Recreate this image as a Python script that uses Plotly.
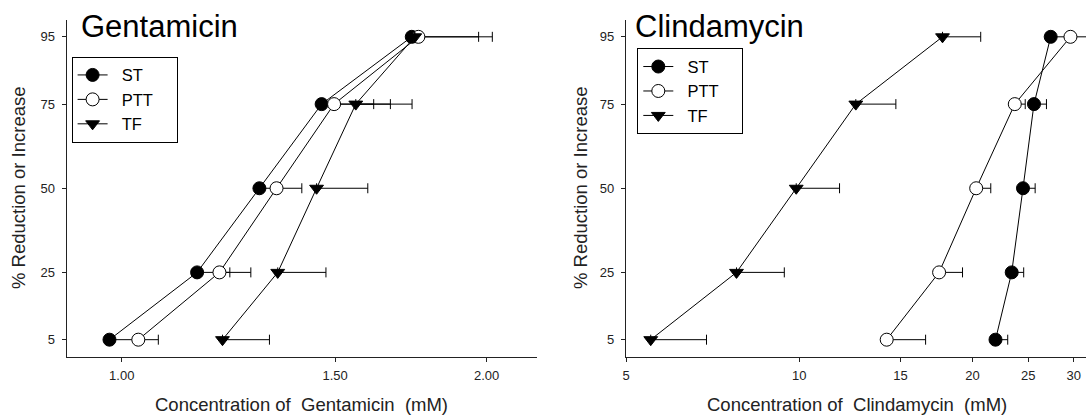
import plotly.graph_objects as go

# ---------------- data ----------------
levels = [5, 25, 50, 75, 95]
level_ticks = [5, 25, 50, 75, 95]

# Gentamicin (mM): centre values and upper end of error bar
gen_st = [0.977, 1.154, 1.299, 1.462, 1.735]
gen_st_hi = [1.03, 1.228, 1.34, 1.614, 1.97]
gen_ptt = [1.032, 1.204, 1.342, 1.497, 1.757]
gen_ptt_hi = [1.072, 1.278, 1.408, 1.666, 2.022]
gen_tf = [1.211, 1.345, 1.448, 1.560, 1.745]
gen_tf_hi = [1.324, 1.474, 1.596, 1.736, None]
gen_ticks = [1.0, 1.5, 2.0]
gen_ticktext = ["1.00", "1.50", "2.00"]

# Clindamycin (mM)
cli_st = [21.93, 23.4, 24.48, 25.58, 27.35]
cli_st_hi = [23.03, 24.55, 25.7, 26.89, 29.5]
cli_ptt = [14.19, 17.5, 20.3, 23.69, 29.6]
cli_ptt_hi = [16.58, 19.22, 21.52, 24.7, 33.0]
cli_tf = [5.52, 7.78, 9.88, 12.54, 17.74]
cli_tf_hi = [6.90, 9.42, 11.75, 14.72, 20.67]
cli_ticks = [5, 10, 15, 20, 25, 30]
cli_ticktext = ["5", "10", "15", "20", "25", "30"]

series_names = ["ST", "PTT", "TF"]

NB = "\u00a0"


def legend_label(s):
    return NB * 2 + s + NB * (7 - len(s))


FONT = "Liberation Sans, Arial, Helvetica, sans-serif"
W, H = 1086, 415


def px_x(p):
    return p / W


def px_y(p):
    return (H - p) / H


styles = {
    "ST": dict(symbol="circle", color="black", size=13),
    "PTT": dict(symbol="circle", color="white", size=13),
    "TF": dict(symbol="triangle-down", color="black", size=12),
}


def err_plus(center, hi):
    return [None if h is None else h - c for c, h in zip(center, hi)]


fig = go.Figure()

panels = [
    ("x", "y", "legend", [(gen_st, gen_st_hi), (gen_ptt, gen_ptt_hi), (gen_tf, gen_tf_hi)]),
    ("x2", "y2", "legend2", [(cli_st, cli_st_hi), (cli_ptt, cli_ptt_hi), (cli_tf, cli_tf_hi)]),
]

for xa, ya, leg, data in panels:
    for name, (cx, hi) in zip(series_names, data):
        st = styles[name]
        fig.add_trace(go.Scatter(
            x=cx, y=levels, name=legend_label(name), mode="lines+markers",
            xaxis=xa, yaxis=ya, legend=leg,
            line=dict(color="black", width=1),
            marker=dict(symbol=st["symbol"], color=st["color"], size=st["size"],
                        line=dict(color="black", width=1)),
            error_x=dict(type="data", symmetric=False,
                         array=err_plus(cx, hi), arrayminus=[0] * len(cx),
                         color="black", thickness=1, width=5),
            cliponaxis=False,
        ))

y_dom = [px_y(356.5), px_y(20)]
axis_common = dict(
    showline=True, linecolor="#222", linewidth=1.2, mirror=False,
    showgrid=False, zeroline=False, ticks="outside", ticklen=4,
    tickcolor="#222", tickwidth=1, automargin=False,
    tickfont=dict(family=FONT, size=13, color="#222"),
)

fig.update_layout(
    width=W, height=H,
    margin=dict(l=0, r=0, t=0, b=0),
    paper_bgcolor="white", plot_bgcolor="white",
    font=dict(family=FONT, color="black"),
    showlegend=True,
    xaxis=dict(type="log", domain=[px_x(66.7), px_x(536.7)],
               range=[-0.0454, 0.3424], tickvals=gen_ticks, ticktext=gen_ticktext,
               anchor="y", ticklabelstandoff=3, **axis_common),
    yaxis=dict(domain=y_dom, range=[0, 100], tickvals=level_ticks,
               anchor="x", ticklabelstandoff=4, **axis_common),
    xaxis2=dict(type="log", domain=[px_x(626.0), 1.0],
                range=[0.69897, 1.4983], tickvals=cli_ticks, ticktext=cli_ticktext,
                anchor="y2", ticklabelstandoff=3, **axis_common),
    yaxis2=dict(domain=y_dom, range=[0, 100], tickvals=level_ticks,
                anchor="x2", ticklabelstandoff=4, **axis_common),
    legend=dict(x=px_x(71.6), y=px_y(56.7), xanchor="left", yanchor="top",
                bordercolor="black", borderwidth=1, bgcolor="white",
                font=dict(family=FONT, size=16.5), tracegroupgap=0),
    legend2=dict(x=px_x(637.3), y=px_y(48.3), xanchor="left", yanchor="top",
                 bordercolor="black", borderwidth=1, bgcolor="white",
                 font=dict(family=FONT, size=16.5), tracegroupgap=0),
)

annotations = [
    dict(text="Gentamicin", x=px_x(78.7), y=px_y(26.5), xanchor="left", yanchor="middle",
         font=dict(family=FONT, size=31, color="black")),
    dict(text="Clindamycin", x=px_x(633.3), y=px_y(26.5), xanchor="left", yanchor="middle",
         font=dict(family=FONT, size=31, color="black")),
    dict(text="Concentration of\u00a0 Gentamicin\u00a0 (mM)", x=px_x(301.7), y=px_y(404),
         xanchor="center", yanchor="middle", font=dict(family=FONT, size=18.5, color="#222")),
    dict(text="Concentration of\u00a0 Clindamycin\u00a0 (mM)", x=px_x(856.5), y=px_y(404),
         xanchor="center", yanchor="middle", font=dict(family=FONT, size=18.5, color="#222")),
    dict(text="% Reduction or Increase", x=px_x(18), y=px_y(188), textangle=-90,
         xanchor="center", yanchor="middle", font=dict(family=FONT, size=18.5, color="#222")),
    dict(text="% Reduction or Increase", x=px_x(580), y=px_y(188), textangle=-90,
         xanchor="center", yanchor="middle", font=dict(family=FONT, size=18.5, color="#222")),
]
for a in annotations:
    a.update(xref="paper", yref="paper", showarrow=False)
fig.update_layout(annotations=annotations)

fig.write_html(
    "out.html",
    config={"displayModeBar": False},
    post_script="document.body.style.margin='0';document.body.style.overflow='hidden';",
)
